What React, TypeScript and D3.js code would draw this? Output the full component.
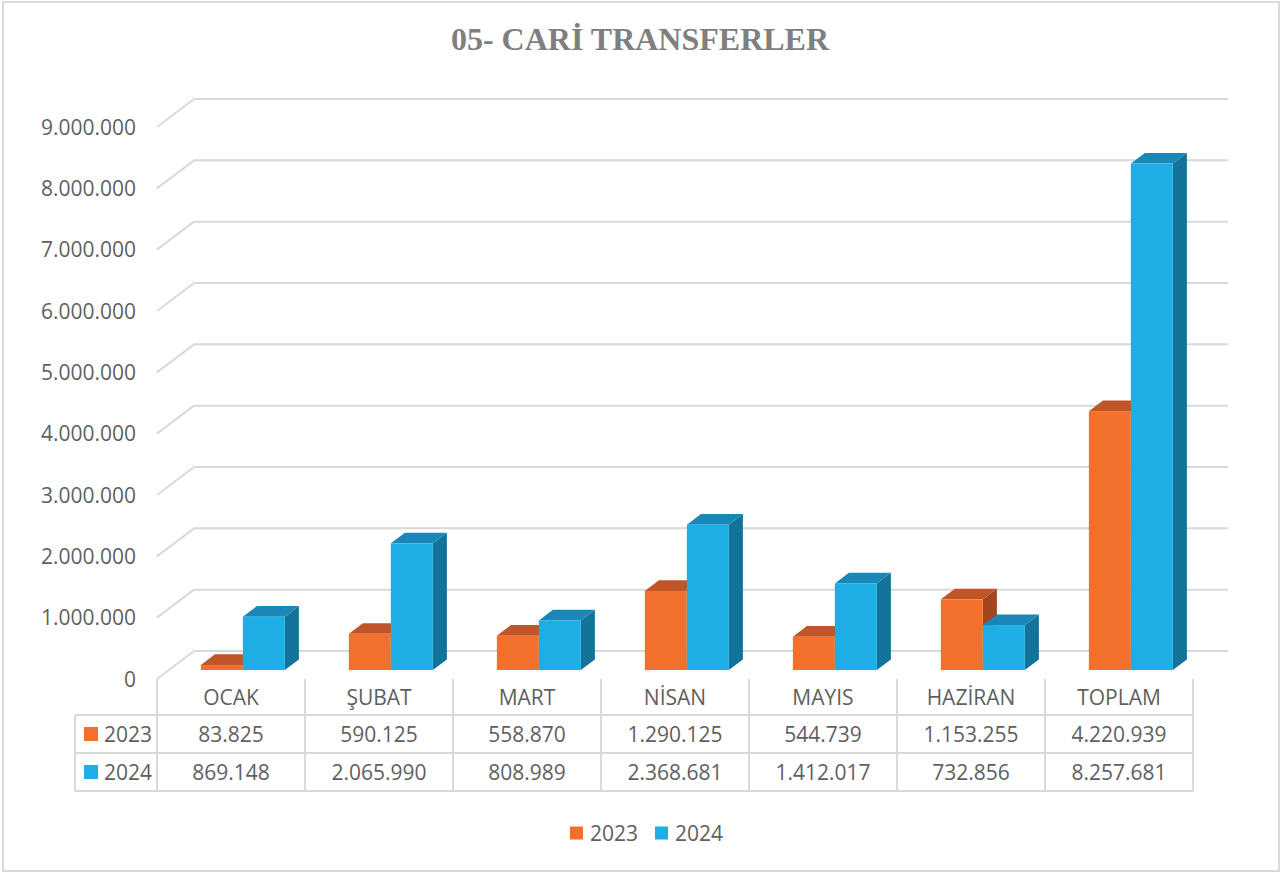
import * as d3 from 'd3';
import { useMemo } from 'react';

const categories = ['OCAK', 'ŞUBAT', 'MART', 'NİSAN', 'MAYIS', 'HAZİRAN', 'TOPLAM'];
const years = ['2023', '2024'];
const values2023 = [83825, 590125, 558870, 1290125, 544739, 1153255, 4220939];
const values2024 = [869148, 2065990, 808989, 2368681, 1412017, 732856, 8257681];
const yMax = 9000000;

const WIDTH = 1286;
const HEIGHT = 873;
// front edge of the floor, the depth vector of the 3d box
const PLOT = { left: 157, right: 1193, base: 679, top: 127 };
const DEPTH = { dx: 37, dy: 28 };
const BAR_T = { front: 0.32, back: 0.7 };
const TABLE = { left: 75, row1: 715, row2: 753, bottom: 791 };

const COLORS: Record<string, { front: string; top: string; side: string }> = {
  '2023': { front: '#F2702B', top: '#C1552A', side: '#A2461F' },
  '2024': { front: '#1DAEE5', top: '#1A87B9', side: '#13739A' },
};
const GRID = '#D9D9D9';
const TEXT = '#5f5f5f';
const FONT = '"Open Sans", "Liberation Sans", sans-serif';

const trLocale = d3.formatLocale({ decimal: ',', thousands: '.', grouping: [3], currency: ['', ''] });
const fmt = trLocale.format(',d');

const pts = (p: [number, number][]) => p.map((d) => d.join(',')).join(' ');

export default function App() {
  const series = [values2023, values2024];

  const xScale = useMemo(
    () => d3.scaleBand().domain(categories).range([PLOT.left, PLOT.right]).padding(0),
    []
  );
  const xInner = useMemo(
    () => d3.scaleBand().domain(years).range([0, xScale.bandwidth()]).paddingInner(0).paddingOuter(0.762),
    [xScale]
  );
  const yScale = useMemo(() => d3.scaleLinear().domain([0, yMax]).range([PLOT.base, PLOT.top]), []);
  const ticks = yScale.ticks(9);

  const bdx = (BAR_T.back - BAR_T.front) * DEPTH.dx;
  const bdy = (BAR_T.back - BAR_T.front) * DEPTH.dy;

  const bars = categories.map((c, i) => (
    <g key={c}>
      {years.map((yr, s) => {
        const v = series[s][i];
        const x0 = (xScale(c) ?? 0) + (xInner(yr) ?? 0) + BAR_T.front * DEPTH.dx;
        const x1 = x0 + xInner.bandwidth();
        const yTop = yScale(v) - BAR_T.front * DEPTH.dy;
        const yBot = yScale(0) - BAR_T.front * DEPTH.dy;
        const col = COLORS[yr];
        return (
          <g key={yr}>
            <polygon
              points={pts([[x1, yTop], [x1 + bdx, yTop - bdy], [x1 + bdx, yBot - bdy], [x1, yBot]])}
              fill={col.side}
            />
            <polygon
              points={pts([[x0, yTop], [x1, yTop], [x1 + bdx, yTop - bdy], [x0 + bdx, yTop - bdy]])}
              fill={col.top}
            />
            <rect x={x0} y={yTop} width={x1 - x0} height={yBot - yTop} fill={col.front} />
          </g>
        );
      })}
    </g>
  ));

  const colLines = [...categories.map((c) => xScale(c) ?? 0), PLOT.right];

  return (
    <div style={{ position: 'absolute', left: 0, top: 0 }}>
      <svg width={WIDTH} height={HEIGHT} style={{ display: 'block', background: '#fff' }}>
        <rect x={3} y={2} width={1276} height={869} fill="#fff" stroke={GRID} strokeWidth={2} />

        <text
          x={640}
          y={50}
          textAnchor="middle"
          fontFamily='"Liberation Serif", "Times New Roman", serif'
          fontWeight="bold"
          fontSize={32}
          fill="#7F7F7F"
        >
          05- CARİ TRANSFERLER
        </text>

        {/* gridlines: floor diagonal + back wall */}
        {ticks.map((t) => {
          const yF = yScale(t);
          const yB = yF - DEPTH.dy;
          return (
            <g key={t}>
              <line x1={PLOT.left} y1={yF} x2={PLOT.left + DEPTH.dx} y2={yB} stroke={GRID} strokeWidth={2} />
              <line x1={PLOT.left + DEPTH.dx} y1={yB} x2={PLOT.right + DEPTH.dx - 2} y2={yB} stroke={GRID} strokeWidth={2} />
              <text
                x={136}
                y={yF}
                dy="0.36em"
                textAnchor="end"
                fontFamily={FONT}
                fontSize={21}
                fill={TEXT}
              >
                {fmt(t)}
              </text>
            </g>
          );
        })}

        {bars}

        {/* data table */}
        <g stroke={GRID} strokeWidth={2}>
          {colLines.map((x, i) => (
            <line key={i} x1={x} y1={PLOT.base} x2={x} y2={TABLE.bottom} />
          ))}
          <line x1={TABLE.left} y1={TABLE.row1} x2={TABLE.left} y2={TABLE.bottom} />
          {[TABLE.row1, TABLE.row2, TABLE.bottom].map((y) => (
            <line key={y} x1={TABLE.left} y1={y} x2={PLOT.right} y2={y} />
          ))}
        </g>
        <g fontFamily={FONT} fontSize={21} fill={TEXT} textAnchor="middle">
          {categories.map((c) => (
            <text key={c} x={(xScale(c) ?? 0) + xScale.bandwidth() / 2} y={(PLOT.base + TABLE.row1) / 2} dy="0.36em">
              {c}
            </text>
          ))}
          {years.map((yr, s) => {
            const yMid = s === 0 ? (TABLE.row1 + TABLE.row2) / 2 : (TABLE.row2 + TABLE.bottom) / 2;
            return (
              <g key={yr}>
                <rect x={84} y={yMid - 7} width={14} height={14} fill={COLORS[yr].front} />
                <text x={104} y={yMid} dy="0.36em" textAnchor="start">
                  {yr}
                </text>
                {categories.map((c, i) => (
                  <text key={c} x={(xScale(c) ?? 0) + xScale.bandwidth() / 2} y={yMid} dy="0.36em">
                    {fmt(series[s][i])}
                  </text>
                ))}
              </g>
            );
          })}
        </g>

        {/* legend */}
        <g fontFamily={FONT} fontSize={21} fill={TEXT}>
          {years.map((yr, s) => (
            <g key={yr} transform={`translate(${570 + s * 85},833)`}>
              <rect x={0} y={-6.5} width={13} height={13} fill={COLORS[yr].front} />
              <text x={20} y={0} dy="0.36em">
                {yr}
              </text>
            </g>
          ))}
        </g>
      </svg>
    </div>
  );
}
